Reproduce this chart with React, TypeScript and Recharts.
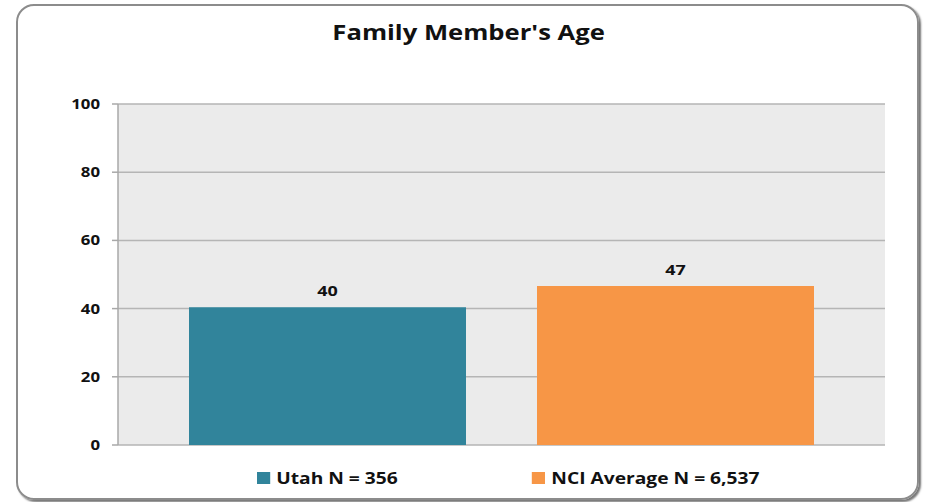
import React from 'react';
import { BarChart, Bar, XAxis, YAxis, CartesianGrid, Legend, LabelList } from 'recharts';

// Values
const categories = [''];
const utahValues = [40.4];
const nciValues = [46.6];
const yTicks = [0, 20, 40, 60, 80, 100];
const seriesNames = ['Utah N = 356', 'NCI Average N = 6,537'];
const seriesColors = ['#31849b', '#f79646'];

const chartData = categories.map((c, i) => ({
  category: c,
  utah: utahValues[i],
  nci: nciValues[i],
}));

const FONT = '"Open Sans", Arial, sans-serif';
// the original text is horizontally stretched
const STRETCH = 1.2;

function LegendContent() {
  return (
    <div style={{ height: 22, position: 'relative' }}>
      <div
        style={{
          position: 'absolute',
          left: 257,
          top: 0,
          display: 'flex',
          alignItems: 'center',
          height: 22,
          whiteSpace: 'nowrap',
          transform: `scaleX(${STRETCH})`,
          transformOrigin: 'left center',
          fontFamily: FONT,
          fontWeight: 700,
          fontSize: 16,
          color: '#111',
        }}
      >
        {seriesNames.map((name, i) => (
          <div key={name} style={{ display: 'flex', alignItems: 'center', marginRight: i === 0 ? 112 : 0 }}>
            <span style={{ display: 'inline-block', width: 11, height: 12, background: seriesColors[i], marginRight: 5 }} />
            <span>{name}</span>
          </div>
        ))}
      </div>
    </div>
  );
}

function YTick(props: any) {
  const { x, y, payload } = props;
  return (
    <text
      transform={`translate(${x},${y}) scale(${STRETCH},1)`}
      textAnchor="end"
      dy="0.35em"
      fill="#111"
      fontFamily={FONT}
      fontWeight={700}
      fontSize={14}
    >
      {payload.value}
    </text>
  );
}

function TopLabel(props: any) {
  const { x, y, width, value } = props;
  return (
    <text
      transform={`translate(${x + width / 2},${y - 11}) scale(${STRETCH},1)`}
      textAnchor="middle"
      fill="#111"
      fontFamily={FONT}
      fontWeight={700}
      fontSize={15}
    >
      {Math.round(Number(value))}
    </text>
  );
}

export default function App() {
  return (
    <div style={{ position: 'absolute', left: 0, top: 0, width: 926, height: 502, background: '#fff', overflow: 'hidden' }}>
      <div
        style={{
          position: 'absolute',
          left: 16,
          top: 4,
          width: 899,
          height: 492,
          border: '2px solid #8c8c8c',
          borderRadius: 18,
          boxShadow: '2px 2px 2px #777',
        }}
      />
      <div
        style={{
          position: 'absolute',
          left: 0,
          top: 18,
          width: 937,
          textAlign: 'center',
          fontFamily: FONT,
          fontWeight: 700,
          fontSize: 21,
          color: '#111',
          transform: 'scaleX(1.22)',
          transformOrigin: '468px 0',
        }}
      >
        Family Member's Age
      </div>
      <div style={{ position: 'absolute', left: 0, top: 0 }}>
        <BarChart
          width={926}
          height={502}
          data={chartData}
          margin={{ top: 104, right: 41, bottom: 35, left: 0 }}
          barCategoryGap={71}
          barGap={71}
        >
          <CartesianGrid vertical={false} fill="#ebebeb" stroke="#b5b5b5" strokeWidth={1.5} />
          <XAxis dataKey="category" hide />
          <YAxis
            width={118}
            domain={[0, 100]}
            ticks={yTicks}
            interval={0}
            tickSize={6}
            tickMargin={12}
            axisLine={{ stroke: '#a8a8a8', strokeWidth: 1.5 }}
            tickLine={{ stroke: '#a8a8a8', strokeWidth: 1.5 }}
            tick={<YTick />}
          />
          <Legend
            verticalAlign="bottom"
            content={() => <LegendContent />}
            wrapperStyle={{ left: 0, width: 926, bottom: 13 }}
          />
          <Bar dataKey="utah" name={seriesNames[0]} fill={seriesColors[0]} isAnimationActive={false}>
            <LabelList dataKey="utah" content={<TopLabel />} />
          </Bar>
          <Bar dataKey="nci" name={seriesNames[1]} fill={seriesColors[1]} isAnimationActive={false}>
            <LabelList dataKey="nci" content={<TopLabel />} />
          </Bar>
        </BarChart>
      </div>
    </div>
  );
}
